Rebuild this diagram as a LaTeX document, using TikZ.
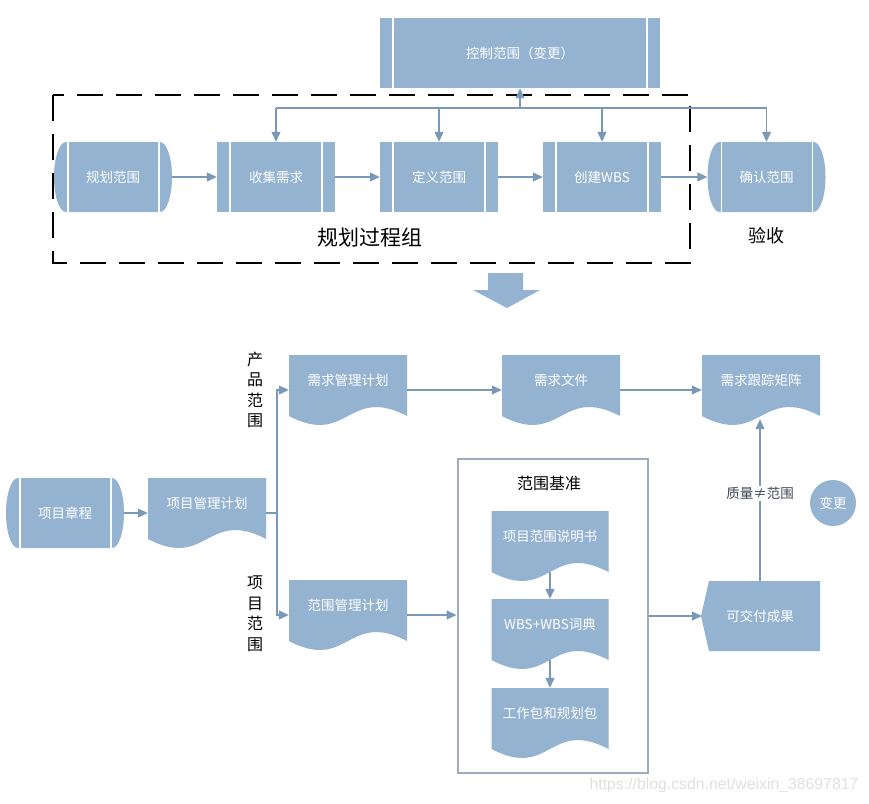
\documentclass[tikz,border=0pt]{standalone}
\usepackage{fontspec}
\setmainfont{Noto Sans CJK SC}
\newfontfamily\urlfont{Liberation Sans}
\usetikzlibrary{arrows.meta}
\definecolor{boxblue}{RGB}{148,179,209}
\definecolor{linkblue}{RGB}{122,153,184}
\definecolor{framegray}{RGB}{160,172,188}
\tikzset{
  base/.style={inner sep=0pt, text=white, font=\fontsize{13.5pt}{15pt}\selectfont, minimum height=70pt},
  procbox/.style={base, minimum width=#1, path picture={
      \fill[boxblue] (path picture bounding box.south west) rectangle (path picture bounding box.north east);
      \draw[white, line width=1.2pt] ([xshift=13pt]path picture bounding box.south west) -- ([xshift=13pt]path picture bounding box.north west);
      \draw[white, line width=1.2pt] ([xshift=-13pt]path picture bounding box.south east) -- ([xshift=-13pt]path picture bounding box.north east);}},
  drum/.style={base, minimum width=118pt, path picture={
      \fill[boxblue] ([xshift=12pt]path picture bounding box.north west) -- ([xshift=-12pt]path picture bounding box.north east)
        arc[start angle=90, end angle=-90, x radius=12pt, y radius=35pt] -- ([xshift=12pt]path picture bounding box.south west)
        arc[start angle=270, end angle=90, x radius=12pt, y radius=35pt] -- cycle;
      \draw[white, line width=1.2pt] ([xshift=14pt]path picture bounding box.south west) -- ([xshift=14pt]path picture bounding box.north west);
      \draw[white, line width=1.2pt] ([xshift=-13pt]path picture bounding box.south east) -- ([xshift=-13pt]path picture bounding box.north east);}},
  docbox/.style={base, minimum width=118pt, text height=10pt, text depth=20pt, path picture={
      \fill[boxblue] (path picture bounding box.north west) -- (path picture bounding box.north east) -- ([yshift=9pt]path picture bounding box.south east)
        .. controls +(-59pt,31pt) and +(59pt,-31pt) .. ([yshift=9pt]path picture bounding box.south west) -- cycle;}},
  outbox/.style={base, minimum width=120pt, path picture={
      \fill[boxblue] ([xshift=9pt]path picture bounding box.north west) -- (path picture bounding box.north east) -- (path picture bounding box.south east)
        -- ([xshift=9pt]path picture bounding box.south west) -- ([xshift=1pt]path picture bounding box.west) -- cycle;}},
  link/.style={draw=linkblue, line width=1.1pt},
  conn/.style={link, -{Triangle[length=10pt,width=9pt]}},
  vtext/.style={align=center, font=\fontsize{16pt}{20.5pt}\selectfont}
}
\begin{document}
\begin{tikzpicture}[x=1pt,y=-1pt]
  \useasboundingbox[fill=white] (0,0) rectangle (869,803);
  \node[procbox=280pt] (kz) at (520,53) {控制范围（变更）};
  \node[drum] (gh) at (113,177) {规划范围};
  \node[procbox=118pt] (sj) at (276,177) {收集需求};
  \node[procbox=118pt] (dy) at (439,177) {定义范围};
  \node[procbox=118pt] (wbs) at (602,177) {创建WBS};
  \node[drum] (qr) at (766.5,177) {确认范围};
  \draw[black, line width=1.8pt, dash pattern=on 26pt off 13pt] (53,95) rectangle (690,263);
  \node[font=\fontsize{21pt}{24pt}\selectfont] (ghlabel) at (370,238) {规划过程组};
  \node[font=\fontsize{18pt}{21pt}\selectfont] (yslabel) at (766,236) {验收};
  \coordinate (bus) at (520,108);
  \draw[link] (sj.north |- bus) -- (qr.north |- bus);
  \foreach \n in {sj,dy,wbs,qr}
    \draw[conn] (\n.north |- bus) -- (\n.north);
  \draw[conn] (bus) -- (kz.south);
  \draw[conn] (gh) -- (sj);
  \draw[conn] (sj) -- (dy);
  \draw[conn] (dy) -- (wbs);
  \draw[conn] (wbs) -- (qr);
  \fill[boxblue] (488,273) -- (523,273) -- (523,290) -- (540,290) -- (507,308) -- (473,290) -- (488,290) -- cycle;

  \node[drum] (zc) at (65,513) {项目章程};
  \node[docbox] (xm) at (207,513) {项目管理计划};
  \node[docbox] (xqgl) at (348,390) {需求管理计划};
  \node[docbox] (xqwj) at (561,390) {需求文件};
  \node[docbox] (gzjz) at (761,390) {需求跟踪矩阵};
  \node[docbox] (fwgl) at (348,615) {范围管理计划};
  \node[vtext] (cpfw) at (255,390) {产\\品\\范\\围};
  \node[vtext] (xmfw) at (255,614) {项\\目\\范\\围};
  \node[draw=framegray, line width=2pt, minimum width=190pt, minimum height=314pt, inner sep=0pt] (jz) at (552.5,615.5) {};
  \node[font=\fontsize{16pt}{19pt}\selectfont] (jzlabel) at (549,483) {范围基准};
  \node[docbox, minimum width=117pt] (sm) at (550,546) {项目范围说明书};
  \node[docbox, minimum width=117pt] (cd) at (550,634) {WBS+WBS词典};
  \node[docbox, minimum width=117pt] (gb) at (550,723) {工作包和规划包};
  \node[outbox] (jf) at (760,616) {可交付成果};
  \node[circle, fill=boxblue, minimum size=46pt, inner sep=0pt, text=white, font=\fontsize{13.5pt}{15pt}\selectfont] (bg) at (833,503) {变更};
  \coordinate (br) at (277,513);
  \draw[conn] (zc) -- (xm);
  \draw[link] (xm.east) -- (br);
  \draw[conn] (br) |- (xqgl.west);
  \draw[conn] (br) |- (fwgl.west);
  \draw[conn] (xqgl) -- (xqwj);
  \draw[conn] (xqwj) -- (gzjz);
  \draw[conn] (fwgl.east) -- (fwgl.east -| jz.west);
  \draw[conn] ([yshift=9pt]sm.south) -- (cd.north);
  \draw[conn] ([yshift=9pt]cd.south) -- (gb.north);
  \draw[conn] (jz.east |- jf.west) -- ([xshift=2pt]jf.west);
  \draw[conn] (jf.north) -- ([yshift=6pt]gzjz.south -| jf.north) node[pos=0.54, fill=white, inner sep=1pt, text={rgb,255:red,60;green,70;blue,82}, font=\fontsize{13.5pt}{15pt}\selectfont] {质量≠范围};
  \node[text={rgb,255:red,224;green,224;blue,224}, font=\urlfont\fontsize{15.8pt}{18pt}\selectfont] (wm) at (724,785) {https://blog.csdn.net/weixin\_38697817};
\end{tikzpicture}
\end{document}
